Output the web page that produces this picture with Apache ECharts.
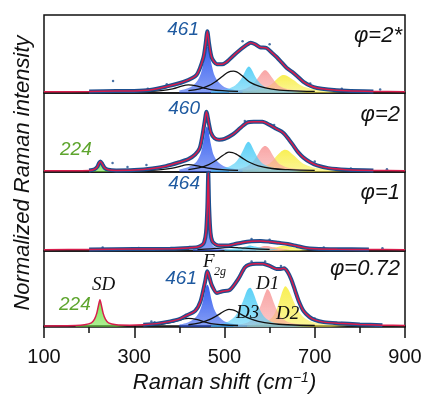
<!DOCTYPE html>
<html>
<head>
<meta charset="utf-8">
<script src="https://cdn.jsdelivr.net/npm/echarts@6/dist/echarts.min.js"></script>
<style>
  html, body { margin: 0; padding: 0; background: #fff; }
  #chart { width: 425px; height: 395px; }
</style>
</head>
<body>
<div id="chart"></div>
<script>
// Raman shift axis
const X_MIN = 100
const X_MAX = 900
const X_TICK = 200

// panel labels (top to bottom)
const phiLabels = ['φ=2*', 'φ=2', 'φ=1', 'φ=0.72']

// ---- phi = 2* ----
const fit1 = [[100,0],[200,0.5],[260,1],[300,1.2],[335,2.5],[372,7],[409,13],[438,22],[453,44],[458,62],[462,79],[466,62],[472,44],[483,36],[495,36],[505,39],[527,51],[549,61],[558,64],[568,62],[579,58],[593,57],[605,51],[616,45],[627,38],[638,31],[650,26],[660,21],[675,13],[690,8],[705,5],[730,3],[770,1.5],[830,0.6],[900,0.2]]
const blue1 = [[400,2],[420,5],[435,11],[445,20],[452,34],[456,46],[459,55],[462,59],[465,55],[468,46],[472,34],[479,20],[490,11],[505,5],[530,2],[580,0.5]]
const smallBlack1 = [[330,0.3],[360,1.5],[385,4],[405,7.5],[414,8.7],[420,9],[428,8.7],[440,7.5],[455,5],[470,3],[495,1.5],[530,0.5]]
const black1 = [[420,1.5],[445,4],[465,8],[482,14],[495,20],[505,24.5],[513,26.5],[520,27],[527,26],[535,23],[545,18],[558,12],[578,7],[605,3.5],[640,1.5],[700,0.5]]
const cyan1 = [[470,1],[500,3],[520,7],[532,13],[540,20],[546,27],[550,31],[554,33],[558,31],[562,27],[568,20],[576,13],[588,7],[610,3],[650,1],[700,0.3]]
const pink1 = [[510,1],[540,3],[556,7],[566,12],[574,18],[580,23],[585,26.5],[590,28],[595,26.5],[600,23],[606,18],[614,12],[624,7],[645,3],[690,1]]
const yellow1 = [[540,1],[575,3],[595,7],[606,11],[615,16],[622,19.5],[627,21.5],[632,22],[638,21],[645,18.5],[654,15],[665,10],[680,6],[700,3.5],[730,1.5],[780,0.5]]
const stray1 = [[253,14],[330,4],[372,10],[540,66],[600,62],[690,11],[760,4],[845,3]]

// ---- phi = 2 ----
const fit2 = [[100,0],[200,0.5],[212,2],[218,5],[222,10],[225,12],[229,9],[234,4],[242,1.5],[260,0.5],[300,1],[340,3],[370,6],[400,11],[420,15],[435,21],[445,29],[451,45],[456,63],[460,76],[465,62],[470,49],[478,42],[488,40],[500,41],[519,47],[535,55],[550,62],[565,63],[584,63],[600,59],[615,54],[630,49],[643,40],[652,33],[663,24],[675,17],[690,11],[705,7],[730,3.5],[770,1.5],[830,0.5],[900,0.2]]
const green2 = [[200,0.5],[212,2],[218,5],[221,9],[223,11],[225,12],[227,11],[230,8],[234,4],[242,1.5],[260,0.3]]
const blue2 = [[400,2],[420,5],[435,10],[445,19],[451,31],[455,43],[458,53],[461,57],[464,53],[467,43],[471,31],[477,19],[488,10],[503,5],[530,2],[580,0.5]]
const smallBlack2 = [[330,0.3],[360,1.5],[385,3.5],[405,6.5],[414,7.7],[420,8],[428,7.7],[440,6.5],[455,4.5],[470,3],[495,1.5],[530,0.5]]
const black2 = [[420,1.5],[445,4],[465,8],[480,13],[492,18],[502,22],[510,24],[518,23.5],[526,21.5],[538,17],[555,11],[575,6.5],[605,3],[640,1.5],[700,0.5]]
const cyan2 = [[470,1],[500,3.5],[518,8],[530,15],[538,23],[544,30],[549,35.5],[553,37.5],[557,35.5],[562,30],[568,23],[576,15],[588,8],[610,3.5],[650,1.2],[700,0.3]]
const pink2 = [[510,1],[540,3.5],[556,8],[566,14],[574,21],[580,27],[585,30.5],[590,32],[595,30.5],[600,27],[606,21],[614,14],[624,8],[645,3.5],[690,1]]
const yellow2 = [[540,1],[575,3.5],[596,8],[608,14],[617,20],[624,24],[630,26.5],[635,27],[641,26],[648,22.5],[657,18],[670,11],[685,6.5],[705,3.5],[735,1.5],[790,0.5]]
const stray2 = [[252,10],[285,5],[327,7.5],[545,64],[610,59],[700,12],[780,3],[860,2]]

// ---- phi = 1 ----
const fit3 = [[100,0],[200,0.5],[300,1],[380,1.5],[420,2.5],[440,3.5],[450,6],[455,10],[459,22],[462,55],[464,99],[466,55],[469,22],[473,11],[480,7],[490,5.5],[505,5.5],[520,7],[540,9.5],[560,11],[580,11.5],[600,10.5],[620,9],[640,7.5],[660,5],[680,2.5],[700,1.5],[750,0.8],[820,0.4],[900,0.2]]
const blue3 = [[430,1],[445,2.5],[453,5],[458,12],[461,30],[464,97],[467,30],[470,12],[475,5],[485,2.5],[510,1]]
const black3 = [[440,0.3],[470,1.2],[495,2.5],[515,3.2],[535,2.5],[560,1.5],[600,0.5]]
const cyan3 = [[500,0.5],[525,2],[545,4],[552,5],[557,5.5],[562,5],[570,4],[590,2],[620,0.5]]
const pink3 = [[540,0.5],[565,2],[582,4],[588,4.8],[592,5],[596,4.8],[602,4],[620,2],[645,0.5]]
const yellow3 = [[570,0.5],[600,2],[620,4],[627,4.8],[632,5],[638,4.8],[645,4],[665,2],[700,0.5]]
const stray3 = [[230,3],[310,2.5],[560,14],[600,13],[720,3],[850,2]]

// ---- phi = 0.72 ----
const fit4 = [[100,0],[170,0.5],[190,1.5],[205,4],[212,9],[217,17],[221,28],[224,35],[227,28],[231,17],[236,9],[243,4],[260,1.5],[290,1],[320,1.5],[350,3],[380,6],[400,9],[416,14],[435,20],[447,33],[457,59],[462,73],[467,64],[472,54],[483,44],[494,46],[512,48],[531,63],[545,78],[556,82],[570,83],[585,83],[600,80],[615,76],[625,76],[632,77],[640,72],[648,62],[656,48],[664,34],[675,20],[688,12],[700,8],[720,5],[750,3.5],[800,2],[850,1],[900,0.5]]
const green4 = [[170,0.3],[190,1.5],[205,4],[212,9],[217,17],[221,28],[224,35],[227,28],[231,17],[236,9],[243,4],[260,1.5],[290,0.3]]
const blue4 = [[400,2],[420,5],[435,11],[445,20],[452,33],[456,44],[459,52],[462,55],[465,52],[468,44],[472,33],[479,20],[490,11],[505,5],[530,2],[580,0.5]]
const smallBlack4 = [[330,0.3],[360,2],[385,5],[405,8.5],[414,9.7],[420,10],[428,9.7],[440,8.3],[455,5.5],[470,3],[495,1.5],[530,0.5]]
const black4 = [[420,1.5],[445,4],[465,8],[480,12.5],[492,17],[502,20.5],[510,22],[518,21.5],[526,19.5],[538,15],[555,10],[575,6],[605,3],[640,1.5],[700,0.5]]
const cyan4 = [[470,1],[500,4],[518,10],[530,19],[538,29],[544,38],[549,46],[553,50],[557,51],[561,48],[566,41],[572,31],[580,20],[592,10],[612,4],[650,1.2],[700,0.3]]
const pink4 = [[520,1],[548,4],[563,10],[573,18],[580,27],[586,37],[591,45],[595,49],[599,47],[604,40],[610,30],[618,19],[628,10],[648,4],[690,1]]
const yellow4 = [[550,1],[585,4],[603,10],[613,19],[620,30],[626,42],[631,50],[635,53],[640,50],[646,43],[653,33],[662,22],[673,13],[688,7],[705,4],[735,1.5],[790,0.5]]
const stray4 = [[338,6],[345,5],[560,86],[590,86],[625,80],[700,10],[760,4]]

const panels = [
  { fit: fit1, stray: stray1, start: 190, lines: [smallBlack1, black1], fills: [[blue1, 'blue'], [yellow1, 'yellow'], [pink1, 'pink'], [cyan1, 'cyan']] },
  { fit: fit2, stray: stray2, start: 190, lines: [smallBlack2, black2], fills: [[blue2, 'blue'], [yellow2, 'yellow'], [pink2, 'pink'], [cyan2, 'cyan'], [green2, 'green']] },
  { fit: fit3, stray: stray3, start: 190, lines: [black3], fills: [[yellow3, 'yellow'], [pink3, 'pink'], [cyan3, 'cyan'], [blue3, 'blue']] },
  { fit: fit4, stray: stray4, start: 320, lines: [smallBlack4, black4], fills: [[blue4, 'blue'], [yellow4, 'yellow'], [pink4, 'pink'], [cyan4, 'cyan'], [green4, 'green']] },
]

const FILL = {
  blue: [38, 82, 238],
  cyan: [78, 205, 246],
  pink: [248, 158, 158],
  yellow: [248, 238, 70],
  green: [110, 226, 64],
}
const RED = '#d81c4c'
const DOTS = '#1d4f8f'
const SANS = '"Liberation Sans", Arial, sans-serif'
const SERIF = '"Liberation Serif", "Times New Roman", serif'

const tops = [15, 93, 172, 251]
const heights = [78, 79, 79, 78]

const chart = echarts.init(document.getElementById('chart'), null, { renderer: 'canvas' })

const rgba = (c, a) => `rgba(${c[0]},${c[1]},${c[2]},${a})`

const series = []
panels.forEach((p, i) => {
  p.lines.forEach(d => series.push({
    type: 'line', xAxisIndex: i, yAxisIndex: i, data: d,
    smooth: 0.4, symbol: 'none',
    lineStyle: { color: '#111', width: 1.3 },
  }))
  p.fills.forEach(([d, name]) => series.push({
    type: 'line', xAxisIndex: i, yAxisIndex: i, data: d,
    smooth: 0.4, symbol: 'none',
    lineStyle: { width: 0 },
    areaStyle: {
      origin: 'start',
      opacity: 1,
      color: new echarts.graphic.LinearGradient(0, 0, 0, 1, [
        { offset: 0, color: rgba(FILL[name], 0.92) },
        { offset: 1, color: rgba(FILL[name], 0.55) },
      ]),
    },
  }))
  // measured spectrum: dense dark-blue dots along the curve
  series.push({
    type: 'line', xAxisIndex: i, yAxisIndex: i,
    data: p.fit.filter(pt => pt[0] >= p.start && pt[0] <= 890),
    smooth: 0.25, symbol: 'none',
    lineStyle: { color: DOTS, width: 4 },
  })
  series.push({
    type: 'scatter', xAxisIndex: i, yAxisIndex: i, data: p.stray,
    symbolSize: 2.5, itemStyle: { color: DOTS },
  })
  series.push({
    type: 'line', xAxisIndex: i, yAxisIndex: i, data: p.fit,
    smooth: 0.25, symbol: 'none',
    lineStyle: { color: RED, width: 1.5 },
  })
})

const txt = (x, y, text, opt) => ({
  type: 'text', x, y, z: 100, silent: true,
  style: Object.assign({ text, fill: '#111', textVerticalAlign: 'middle', fontFamily: SANS, fontStyle: 'italic', fontSize: 19 }, opt),
})

const graphic = [
  Object.assign(txt(23, 173, 'Normalized Raman intensity', { fontSize: 22, textAlign: 'center' }), { rotation: Math.PI / 2 }),
  txt(402, 36, phiLabels[0], { fontSize: 22, textAlign: 'right' }),
  txt(400, 115, phiLabels[1], { fontSize: 22, textAlign: 'right' }),
  txt(400, 193, phiLabels[2], { fontSize: 22, textAlign: 'right' }),
  txt(400, 269, phiLabels[3], { fontSize: 22, textAlign: 'right' }),
  txt(199, 30, '461', { fill: '#1f5aa0', textAlign: 'right' }),
  txt(200, 109, '460', { fill: '#1f5aa0', textAlign: 'right' }),
  txt(200, 184, '464', { fill: '#1f5aa0', textAlign: 'right' }),
  txt(197, 279, '461', { fill: '#1f5aa0', textAlign: 'right' }),
  txt(60, 150, '224', { fill: '#5ea52e' }),
  txt(59, 305, '224', { fill: '#5ea52e' }),
  txt(92, 285, 'SD', { fontFamily: SERIF }),
  txt(203, 262, 'F', { fontFamily: SERIF }),
  txt(214, 272, '2g', { fontFamily: SERIF, fontSize: 12 }),
  txt(256, 284, 'D1', { fontFamily: SERIF }),
  txt(236, 313, 'D3', { fontFamily: SERIF }),
  txt(276, 314, 'D2', { fontFamily: SERIF }),
]

const option = {
  animation: false,
  grid: tops.map((t, i) => ({
    left: 44, width: 361, top: t, height: heights[i],
    show: true, borderColor: '#111', borderWidth: 1.5, backgroundColor: 'transparent',
  })),
  xAxis: tops.map((t, i) => {
    const last = i === tops.length - 1
    return {
      type: 'value', gridIndex: i, min: X_MIN, max: X_MAX, interval: X_TICK,
      show: last,
      splitLine: { show: false },
      axisLine: { show: true, lineStyle: { color: '#111', width: 1.5 } },
      axisTick: { show: true, length: 12, lineStyle: { color: '#111', width: 1.5 } },
      minorTick: { show: true, splitNumber: 2, length: 7, lineStyle: { color: '#111', width: 1.5 } },
      axisLabel: { show: true, margin: 20, color: '#111', fontSize: 20, fontFamily: SANS },
      name: last ? '{t|Raman shift (cm}{s|−1}{t|)}' : '',
      nameLocation: 'middle',
      nameGap: 44,
      nameTextStyle: {
        rich: {
          t: { fontSize: 22, fontStyle: 'italic', fontFamily: SANS, color: '#111', lineHeight: 24 },
          s: { fontSize: 14, fontStyle: 'italic', fontFamily: SANS, color: '#111', verticalAlign: 'top' },
        },
      },
    }
  }),
  yAxis: tops.map((t, i) => ({
    type: 'value', gridIndex: i, min: -1.5, max: 100, show: false, splitLine: { show: false },
  })),
  series,
  graphic,
}

chart.setOption(option)
window.addEventListener('resize', () => chart.resize())
</script>
</body>
</html>
